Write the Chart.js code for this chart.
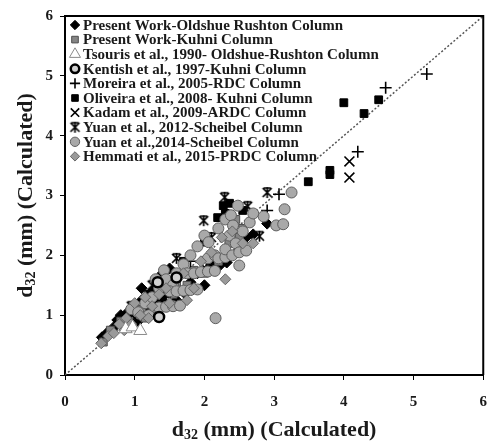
<!DOCTYPE html>
<html>
<head>
<meta charset="utf-8">
<script src="https://cdn.jsdelivr.net/npm/chart.js@4.4.1/dist/chart.umd.min.js"></script>
<style>
  html, body { margin: 0; padding: 0; background: #fff; }
</style>
</head>
<body>
<canvas id="chart" width="500" height="441"></canvas>
<script>
// series labels (legend order)
const seriesNames = [
  "Present Work-Oldshue Rushton Column",
  "Present Work-Kuhni Column",
  "Tsouris et al., 1990- Oldshue-Rushton Column",
  "Kentish et al., 1997-Kuhni Column",
  "Moreira et al., 2005-RDC Column",
  "Oliveira et al., 2008- Kuhni Column",
  "Kadam et al., 2009-ARDC Column",
  "Yuan et al., 2012-Scheibel Column",
  "Yuan et al.,2014-Scheibel Column",
  "Hemmati et al., 2015-PRDC Column"
];

const presentOldshue = [[0.53,0.63],[0.6,0.7],[0.7,0.8],[0.75,0.92],[0.8,1.0],[0.85,0.85],[0.9,1.05],[0.95,0.95],
  [1.0,1.15],[1.05,0.9],[1.1,1.25],[1.1,1.45],[1.2,1.1],[1.25,1.4],[1.3,1.2],[1.38,1.22],[1.45,1.18],[1.4,1.3],
  [1.4,1.7],[1.5,1.78],[1.5,1.45],[1.6,1.25],[1.72,1.36],[1.85,1.45],[1.8,1.55],[1.9,1.7],[2.0,1.5],[2.1,1.85],
  [2.22,1.83],[2.32,1.88],[2.5,2.1],[2.6,2.3],[2.7,2.35],[2.9,2.53]];
const presentKuhni = [[0.55,0.55],[0.65,0.75],[0.8,0.9],[0.9,0.8],[1.0,1.0],[1.1,1.1],[1.15,0.95],[1.3,1.1],
  [1.4,1.4],[1.55,1.35],[1.6,1.55],[1.75,1.5],[1.85,1.75],[2.0,1.7],[2.2,1.9],[2.35,2.2],[2.5,2.3],[2.45,2.6],[2.55,2.45]];
const tsouris = [[0.87,0.77],[0.97,0.8],[1.08,0.74]];
const kentish = [[1.35,0.97],[1.33,1.55],[1.6,1.63]];
const moreira = [[1.3,1.35],[1.8,1.9],[2.9,2.75],[3.07,3.02],[4.2,3.73],[4.6,4.8],[5.19,5.03]];
const oliveira = [[0.9,1.0],[1.2,1.35],[1.7,1.9],[2.0,2.22],[2.19,2.63],[2.27,2.83],[2.3,2.7],[2.36,2.87],[2.55,2.75],
  [3.49,3.23],[3.8,3.35],[3.8,3.42],[4.0,4.55],[4.29,4.37],[4.5,4.6]];
const kadam = [[1.0,0.95],[1.45,1.35],[2.0,1.8],[4.08,3.3],[4.08,3.57]];
const yuan2012 = [[0.95,1.15],[1.25,1.5],[1.6,1.95],[1.99,2.58],[2.1,2.3],[2.29,2.97],[2.62,2.82],[2.79,2.32],[2.9,3.05]];
const yuan2014 = [[0.95,1.1],[1.05,1.05],[1.15,1.2],[1.2,1.0],[1.25,1.3],[1.3,1.6],[1.35,1.45],[1.35,1.13],[1.42,1.75],
  [1.45,1.14],[1.45,1.6],[1.55,1.15],[1.55,1.5],[1.5,1.4],[1.6,1.4],[1.6,1.7],[1.65,1.16],[1.7,1.41],[1.7,1.85],
  [1.75,1.7],[1.8,1.42],[1.8,2.0],[1.85,1.7],[1.9,1.43],[1.9,2.15],[1.95,1.72],[2.0,2.33],[2.05,1.73],[2.05,1.95],
  [2.06,2.22],[2.15,1.74],[2.15,2.0],[2.16,0.95],[2.2,1.95],[2.2,2.45],[2.3,1.97],[2.3,2.1],[2.3,2.6],[2.36,2.33],
  [2.38,2.67],[2.4,2.0],[2.41,2.5],[2.45,2.2],[2.48,2.83],[2.5,1.83],[2.5,2.05],[2.55,2.4],[2.6,2.08],[2.65,2.55],
  [2.7,2.7],[2.85,2.65],[3.03,2.5],[3.13,2.52],[3.15,2.77],[3.25,3.05]];
const hemmati = [[0.52,0.53],[0.62,0.65],[0.7,0.7],[0.78,0.85],[0.85,0.75],[0.88,0.95],[0.95,0.85],[1.0,1.2],[1.08,1.0],
  [1.15,1.3],[1.2,0.95],[1.25,1.15],[1.35,1.35],[1.45,1.45],[1.5,1.2],[1.6,1.6],[1.7,1.7],[1.75,1.25],[1.85,1.45],
  [1.95,1.9],[2.1,2.05],[2.25,2.3],[2.3,1.6],[2.4,2.4],[2.55,2.2],[2.7,2.2]];

const parityLine = [[0,0],[6,6]];
const axisTicks = [0, 1, 2, 3, 4, 5, 6];

const titleMain = "d";
const titleSub = "32";
const titleRest = " (mm) (Calculated)";

const FONT = '"Liberation Serif", "Times New Roman", serif';

// Excel-like star marker: an x with a vertical stroke
function makeStar(size, color, lw) {
  const c = document.createElement('canvas');
  c.width = size; c.height = size;
  const g = c.getContext('2d');
  g.strokeStyle = color; g.lineWidth = lw;
  const a = 2, b = size - 2, m = size / 2;
  g.beginPath();
  g.moveTo(a, a); g.lineTo(b, b);
  g.moveTo(b, a); g.lineTo(a, b);
  g.moveTo(m, a - 1); g.lineTo(m, b + 1);
  g.moveTo(a + 1, a); g.lineTo(b - 1, a);
  g.stroke();
  return c;
}
const starMark = makeStar(13, '#000', 1.7);

const toXY = arr => arr.map(([x, y]) => ({ x, y }));

const styles = [
  { pointStyle: 'rectRot', radius: 5.5, bg: '#000', border: '#000', bw: 1 },
  { pointStyle: 'rect', radius: 5.5, bg: '#858585', border: '#4d4d4d', bw: 1 },
  { pointStyle: 'triangle', radius: 7.5, bg: '#fff', border: '#8a8a8a', bw: 1 },
  { pointStyle: 'circle', radius: 5, bg: '#d0d0d0', border: '#000', bw: 2.5 },
  { pointStyle: 'cross', radius: 6, bg: '#000', border: '#000', bw: 1.6 },
  { pointStyle: 'rect', radius: 5.5, bg: '#000', border: '#000', bw: 1 },
  { pointStyle: 'crossRot', radius: 7, bg: '#000', border: '#000', bw: 1.6 },
  { pointStyle: starMark, radius: 6, bg: '#000', border: '#000', bw: 1 },
  { pointStyle: 'circle', radius: 5.5, bg: '#a9a9a9', border: '#5e5e5e', bw: 1 },
  { pointStyle: 'rectRot', radius: 5.5, bg: '#9a9a9a', border: '#666', bw: 1 }
];

// drawing order: lower value ends up on top
const drawOrder = [12, 11, 1, 2, 10, 9, 8, 7, 6, 5];

const seriesData = [presentOldshue, presentKuhni, tsouris, kentish, moreira, oliveira, kadam, yuan2012, yuan2014, hemmati];

const datasets = seriesData.map((d, i) => ({
  label: seriesNames[i],
  data: toXY(d),
  pointStyle: styles[i].pointStyle,
  pointRadius: styles[i].radius,
  pointBackgroundColor: styles[i].bg,
  pointBorderColor: styles[i].border,
  pointBorderWidth: styles[i].bw,
  order: drawOrder[i]
}));

datasets.push({
  type: 'line',
  label: 'parity',
  data: toXY(parityLine),
  borderColor: '#555',
  borderWidth: 1.5,
  borderDash: [2, 2],
  pointRadius: 0,
  showLine: true,
  order: 100
});

function drawTitle(ctx, cx, cy, rotate) {
  const big = 'bold 22px ' + FONT, small = 'bold 14px ' + FONT;
  ctx.save();
  ctx.translate(cx, cy);
  if (rotate) ctx.rotate(-Math.PI / 2);
  ctx.font = big;
  const w1 = ctx.measureText(titleMain).width;
  const w3 = ctx.measureText(titleRest).width;
  ctx.font = small;
  const w2 = ctx.measureText(titleSub).width;
  let x = -(w1 + w2 + w3) / 2;
  ctx.fillStyle = '#1a1a1a';
  ctx.textBaseline = 'alphabetic';
  ctx.font = big; ctx.fillText(titleMain, x, 7); x += w1;
  ctx.font = small; ctx.fillText(titleSub, x, 10); x += w2;
  ctx.font = big; ctx.fillText(titleRest, x, 7);
  ctx.restore();
}

const decorations = {
  id: 'decorations',
  afterDatasetsDraw(chart) {
    const { ctx, chartArea: a } = chart;
    // top and right frame lines
    ctx.save();
    ctx.strokeStyle = '#000';
    ctx.lineWidth = 2;
    ctx.beginPath();
    ctx.moveTo(a.left, a.top); ctx.lineTo(a.right, a.top); ctx.lineTo(a.right, a.bottom);
    ctx.stroke();
    ctx.restore();
  },
  afterDraw(chart) {
    const { ctx, chartArea: a } = chart;
    drawTitle(ctx, (a.left + a.right) / 2, 429, false);
    drawTitle(ctx, 25, (a.top + a.bottom) / 2, true);

    // legend inside the plot
    const x0 = 75, y0 = 25, step = 14.6;
    ctx.save();
    ctx.font = 'bold 15px ' + FONT;
    ctx.textBaseline = 'middle';
    ctx.fillStyle = '#1a1a1a';
    seriesNames.forEach((name, i) => {
      const s = styles[i];
      const y = y0 + i * step;
      ctx.save();
      ctx.fillStyle = s.bg;
      ctx.strokeStyle = s.border;
      ctx.lineWidth = s.bw;
      Chart.helpers.drawPoint(ctx, {
        pointStyle: s.pointStyle,
        radius: s.radius * 0.85,
        rotation: 0,
        borderWidth: s.bw
      }, x0, y);
      ctx.restore();
      ctx.fillText(name, x0 + 8, y + 1);
    });
    ctx.restore();
  }
};

const tickFont = { family: FONT, size: 15, weight: 'bold' };

new Chart(document.getElementById('chart'), {
  type: 'scatter',
  data: { datasets },
  options: {
    responsive: false,
    animation: false,
    layout: { padding: { top: 15, right: 7, left: 0, bottom: 0 } },
    plugins: { legend: { display: false }, tooltip: { enabled: false } },
    scales: {
      x: {
        type: 'linear', min: 0, max: 6,
        afterBuildTicks: s => { s.ticks = axisTicks.map(v => ({ value: v })); },
        afterFit: s => { s.height = 66; },
        grid: { drawOnChartArea: false, drawTicks: true, tickLength: 5, color: '#000' },
        border: { display: true, color: '#000', width: 2 },
        ticks: { font: tickFont, color: '#1a1a1a', padding: 13 }
      },
      y: {
        type: 'linear', min: 0, max: 6,
        afterBuildTicks: s => { s.ticks = axisTicks.map(v => ({ value: v })); },
        afterFit: s => { s.width = 65; },
        grid: { drawOnChartArea: false, drawTicks: true, tickLength: 5, color: '#000' },
        border: { display: true, color: '#000', width: 2 },
        ticks: { font: tickFont, color: '#1a1a1a', padding: 7 }
      }
    }
  },
  plugins: [decorations]
});
</script>
</body>
</html>
